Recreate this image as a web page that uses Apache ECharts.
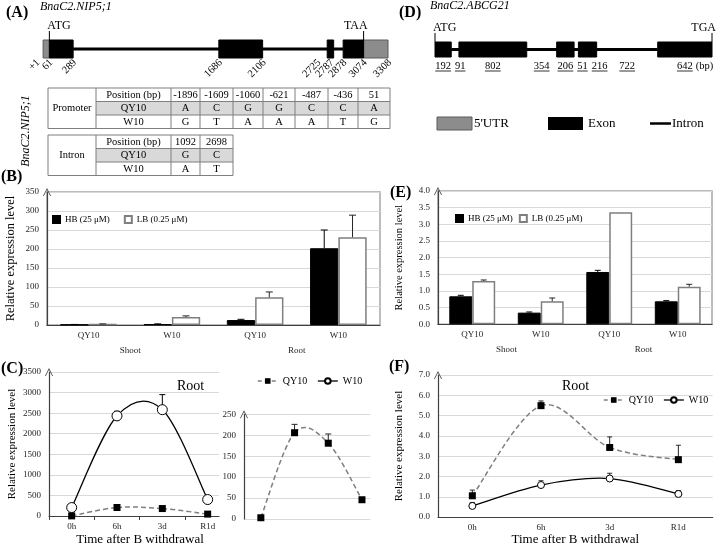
<!DOCTYPE html>
<html><head><meta charset="utf-8">
<script src="https://cdn.jsdelivr.net/npm/echarts@6/dist/echarts.min.js"></script>
<style>html,body{margin:0;padding:0;background:#fff}#c{width:720px;height:547px}</style>
</head><body><div id="c"></div>
<script>
// ---------------- data ----------------
const geneA_utr = [[1, 61], [3074, 3308]];
const geneA_exons = [[61, 289], [1686, 2106], [2725, 2787], [2878, 3074]];
const geneA_intron = [[289, 2878]];
const geneA_positions = [1, 61, 289, 1686, 2106, 2725, 2787, 2878, 3074, 3308];
const geneA_posLabels = ['+1', '61', '289', '1686', '2106', '2725', '2787', '2878', '3074', '3308'];
const geneA_codonPos = [61, 3074];
const geneA_codons = ['ATG', 'TAA'];

const geneD_segments = [192, 91, 802, 354, 206, 51, 216, 722, 642]; // exon/intron alternating
const geneD_codons = ['ATG', 'TGA'];

const promoterPositions = ['-1896', '-1609', '-1060', '-621', '-487', '-436', '51'];
const promoterQY10 = ['A', 'C', 'G', 'G', 'C', 'C', 'A'];
const promoterW10 = ['G', 'T', 'A', 'A', 'A', 'T', 'G'];
const intronPositions = ['1092', '2698'];
const intronQY10 = ['G', 'C'];
const intronW10 = ['A', 'T'];

const barCategories = ['QY10', 'W10', 'QY10', 'W10'];
const tissueGroups = ['Shoot', 'Root'];
const nipHB = [1, 2, 13, 202];
const nipHBErr = [0.5, 1, 2, 48];
const nipLB = [2, 21, 73, 231];
const nipLBErr = [1, 3, 14, 58];
const abcHB = [0.84, 0.35, 1.57, 0.69];
const abcHBErr = [0.03, 0.02, 0.05, 0.02];
const abcLB = [1.30, 0.69, 3.36, 1.13];
const abcLBErr = [0.03, 0.10, 0, 0.07];

const timeLabels = ['0h', '6h', '3d', 'R1d'];
const nipQY10 = [3, 206, 181, 46];
const nipQY10Err = [1, 20, 22, 2];
const nipW10 = [205, 2433, 2584, 400];
const nipW10Err = [20, 110, 366, 20];
const abcQY10 = [1.05, 5.49, 3.43, 2.83];
const abcQY10Err = [0.28, 0.23, 0.52, 0.71];
const abcW10 = [0.55, 1.58, 1.90, 1.14];
const abcW10Err = [0.17, 0.21, 0.26, 0.16];

// ---------------- helpers ----------------
const SERIF = '"Liberation Serif", "Times New Roman", serif';
const f = (size, extra) => (extra ? extra + ' ' : '') + size + 'px ' + SERIF;
const ARROW = 'path://M0,10 L5,0 L10,10 L9,10 L5,2.2 L1,10 Z';
const axisDark = '#404040';
const gridGray = '#d9d9d9';

const geneD_starts = [];
{ let acc = 0; geneD_segments.forEach(l => { geneD_starts.push(acc); acc += l; }); }
const geneD_total = geneD_segments.reduce((a, b) => a + b, 0);
const geneD_exons = geneD_segments.map((l, i) => [geneD_starts[i], geneD_starts[i] + l]).filter((_, i) => i % 2 === 0);
const geneD_intron = [[geneD_segments[0], geneD_starts[geneD_segments.length - 1]]];

function rectRender(fill, stroke) {
  return (params, api) => {
    const p1 = api.coord([api.value(0), 1]);
    const p2 = api.coord([api.value(1), 0]);
    return { type: 'rect', shape: { x: p1[0], y: p1[1], width: p2[0] - p1[0], height: p2[1] - p1[1] },
      style: { fill: fill, stroke: stroke, lineWidth: 1 } };
  };
}
function intronRender(params, api) {
  const p1 = api.coord([api.value(0), 0.5]);
  const p2 = api.coord([api.value(1), 0.5]);
  return { type: 'line', shape: { x1: p1[0], y1: p1[1], x2: p2[0], y2: p2[1] }, style: { stroke: '#000', lineWidth: 3 } };
}
function codonRender(labels) {
  return (params, api) => {
    const i = api.value(1);
    const p = api.coord([api.value(0), 1]);
    return { type: 'group', children: [
      { type: 'line', shape: { x1: p[0], y1: p[1], x2: p[0], y2: p[1] - 9 }, style: { stroke: '#000', lineWidth: 1 } },
      { type: 'text', x: i === 0 ? p[0] - 2 : p[0] + 4, y: p[1] - 8,
        style: { text: labels[i], font: f(12), fill: '#000', align: i === 0 ? 'left' : 'right', verticalAlign: 'bottom' } }
    ] };
  };
}
function errRender(sign, gapRatio, capW, color) {
  return (params, api) => {
    const x = api.value(0), v = api.value(1), e = api.value(2);
    if (!e) return null;
    const base = api.coord([x, v]);
    const top = api.coord([x, v + e]);
    let dx = 0;
    if (sign !== 0) {
      const band = api.size([1, 0])[0];
      dx = sign * band * (1 - gapRatio) / 4;
    }
    const cx = base[0] + dx;
    return { type: 'group', children: [
      { type: 'line', shape: { x1: cx, y1: base[1], x2: cx, y2: top[1] }, style: { stroke: color, lineWidth: 1 } },
      { type: 'line', shape: { x1: cx - capW / 2, y1: top[1], x2: cx + capW / 2, y2: top[1] }, style: { stroke: color, lineWidth: 1 } }
    ] };
  };
}
// spreadsheet-style smoothed curve (Catmull-Rom Bezier segments through the data points)
function curveRender(vals, stroke, width, dash) {
  return (params, api) => {
    const i = params.dataIndex;
    if (i >= vals.length - 1) return null;
    const P = j => { const k = Math.max(0, Math.min(vals.length - 1, j)); return api.coord([k, vals[k]]); };
    const p0 = P(i - 1), p1 = P(i), p2 = P(i + 1), p3 = P(i + 2);
    const t = 1 / 6;
    return { type: 'bezierCurve',
      shape: { x1: p1[0], y1: p1[1], x2: p2[0], y2: p2[1],
        cpx1: p1[0] + (p2[0] - p0[0]) * t, cpy1: p1[1] + (p2[1] - p0[1]) * t,
        cpx2: p2[0] - (p3[0] - p1[0]) * t, cpy2: p2[1] - (p3[1] - p1[1]) * t },
      style: { stroke: stroke, lineWidth: width, lineDash: dash || null, fill: null } };
  };
}
const triples = (vals, errs) => vals.map((v, i) => [i, v, errs[i]]);
const pairs = vals => vals.map((v, i) => [i, v]);

// ---------------- table graphics ----------------
function buildTable(title, colX, rowY, header, r1, r2) {
  const els = [];
  const right = colX[colX.length - 1];
  els.push({ type: 'rect', shape: { x: colX[1], y: rowY[1], width: right - colX[1], height: rowY[2] - rowY[1] }, style: { fill: '#d9d9d9' } });
  els.push({ type: 'rect', shape: { x: colX[0], y: rowY[0], width: right - colX[0], height: rowY[3] - rowY[0] }, style: { fill: 'none', stroke: '#7f7f7f', lineWidth: 1 } });
  [rowY[1], rowY[2]].forEach(y => els.push({ type: 'line', shape: { x1: colX[1], y1: y, x2: right, y2: y }, style: { stroke: '#7f7f7f', lineWidth: 1 } }));
  colX.slice(1, -1).forEach(x => els.push({ type: 'line', shape: { x1: x, y1: rowY[0], x2: x, y2: rowY[3] }, style: { stroke: '#7f7f7f', lineWidth: 1 } }));
  const txt = (t, x, y) => els.push({ type: 'text', x: x, y: y, style: { text: t, font: f(10.5), fill: '#000', align: 'center', verticalAlign: 'middle' } });
  txt(title, (colX[0] + colX[1]) / 2, (rowY[0] + rowY[3]) / 2);
  const rowNames = ['Position (bp)', 'QY10', 'W10'];
  const rows = [header, r1, r2];
  for (let r = 0; r < 3; r++) {
    const cy = (rowY[r] + rowY[r + 1]) / 2;
    txt(rowNames[r], (colX[1] + colX[2]) / 2, cy);
    rows[r].forEach((v, c) => txt(v, (colX[c + 2] + colX[c + 3]) / 2, cy));
  }
  return els;
}
const tableEls = []
  .concat(buildTable('Promoter', [48, 96, 171, 200, 233, 263, 295, 328, 358, 390], [88, 101.5, 115, 128.5], promoterPositions, promoterQY10, promoterW10))
  .concat(buildTable('Intron', [48, 96, 171, 200, 233], [135, 148.5, 162, 175.5], intronPositions, intronQY10, intronW10));

const textEl = (t, x, y, font, opts) => ({ type: 'text', x: x, y: y, style: Object.assign({ text: t, font: font, fill: '#000', align: 'left', verticalAlign: 'middle' }, opts || {}) });

const graphics = tableEls.concat([
  textEl('(A)', 6, 13, f(16, 'bold')),
  textEl('BnaC2.NIP5;1', 40, 7, f(12, 'italic')),
  textEl('(D)', 399, 13, f(16, 'bold')),
  textEl('BnaC2.ABCG21', 430, 6, f(12, 'italic')),
  textEl('(B)', 1, 177, f(16, 'bold')),
  textEl('(E)', 390, 193, f(16, 'bold')),
  textEl('(C)', 1, 369, f(16, 'bold')),
  textEl('(F)', 389, 367, f(16, 'bold')),
  textEl('Root', 177, 386, f(14)),
  textEl('Root', 562, 386, f(14)),
  { type: 'text', x: 26, y: 131, rotation: Math.PI / 2,
    style: { text: 'BnaC2.NIP5;1', font: f(12, 'italic'), fill: '#000', align: 'center', verticalAlign: 'middle' } },
  { type: 'rect', shape: { x: 437, y: 117, width: 35, height: 13 }, style: { fill: '#8c8c8c', stroke: '#5a5a5a', lineWidth: 1 } },
  textEl("5'UTR", 474, 124, f(13)),
  { type: 'rect', shape: { x: 548, y: 117, width: 35, height: 13 }, style: { fill: '#000' } },
  textEl('Exon', 588, 124, f(13)),
  { type: 'line', shape: { x1: 650, y1: 123.5, x2: 671, y2: 123.5 }, style: { stroke: '#000', lineWidth: 2.5 } },
  textEl('Intron', 672, 124, f(13))
]);

// ---------------- axes ----------------
const tickFont = { fontFamily: SERIF, fontSize: 9, color: '#262626' };
function valueAxis(grid, max, interval, dec, nameGap, nameSize) {
  return { gridIndex: grid, type: 'value', min: 0, max: max, interval: interval,
    axisLine: { show: true, onZero: false, symbol: ['none', ARROW], symbolSize: [8, 9], lineStyle: { color: axisDark, width: 1.2 } },
    axisTick: { show: false },
    axisLabel: Object.assign({ margin: 8, formatter: v => dec ? v.toFixed(dec) : String(v) }, tickFont),
    splitLine: { lineStyle: { color: gridGray, width: 1 } },
    name: nameGap ? 'Relative expression level' : '', nameLocation: 'middle', nameGap: nameGap || 0,
    nameTextStyle: { fontFamily: SERIF, fontSize: nameSize || 12, color: '#000' } };
}
function catAxes(grid) {
  return [
    { gridIndex: grid, type: 'category', data: barCategories, position: 'bottom',
      axisLine: { lineStyle: { color: axisDark, width: 1.2 } },
      axisTick: { length: 10, lineStyle: { color: axisDark, width: 1 } },
      axisLabel: Object.assign({ margin: 6 }, tickFont) },
    { gridIndex: grid, type: 'category', data: tissueGroups, position: 'bottom',
      axisLine: { show: false },
      axisTick: { length: 30, lineStyle: { color: axisDark, width: 1.2 } },
      axisLabel: Object.assign({ margin: 21 }, tickFont) }
  ];
}

const xAxis = [
  { gridIndex: 0, type: 'value', min: 0, max: 3308, show: false },
  { gridIndex: 1, type: 'value', min: 0, max: geneD_total, show: false },
  ...catAxes(2),          // 2,3
  ...catAxes(3),          // 4,5
  { gridIndex: 4, type: 'value', min: -0.5, max: 3.25,   // 6
    splitLine: { show: false },
    axisLine: { show: true, onZero: false, lineStyle: { color: axisDark, width: 1.2 } },
    axisTick: { show: true, customValues: [-0.5, 0.5, 1.5, 2.5], length: 4, lineStyle: { color: axisDark } },
    axisLabel: Object.assign({ customValues: [0, 1, 2, 3], formatter: v => timeLabels[Math.round(v)], margin: 6 }, tickFont),
    name: 'Time after B withdrawal', nameLocation: 'middle', nameGap: 17,
    nameTextStyle: { fontFamily: SERIF, fontSize: 13, color: '#000', padding: [0, 0, 0, 12] } },
  { gridIndex: 5, type: 'value', min: -0.5, max: 3.25, show: false },   // 7
  { gridIndex: 6, type: 'category', data: timeLabels,     // 8
    axisLine: { lineStyle: { color: axisDark, width: 1.2 } },
    axisTick: { length: 4, lineStyle: { color: axisDark } },
    axisLabel: Object.assign({ margin: 6 }, tickFont),
    name: 'Time after B withdrawal', nameLocation: 'middle', nameGap: 15,
    nameTextStyle: { fontFamily: SERIF, fontSize: 13, color: '#000' } }
];

const yAxis = [
  { gridIndex: 0, type: 'value', min: 0, max: 1, show: false },
  { gridIndex: 1, type: 'value', min: 0, max: 1, show: false },
  valueAxis(2, 350, 50, 0, 30, 12.5),
  valueAxis(3, 4, 0.5, 1, 33, 10.5),
  valueAxis(4, 3500, 500, 0, 31, 11),
  valueAxis(5, 250, 50, 0, 0),
  valueAxis(6, 7, 1, 1, 33, 11)
];

// ---------------- series ----------------
const HBstyle = { color: '#000', borderColor: '#000', borderWidth: 1 };
const LBstyle = { color: '#fff', borderColor: '#7f7f7f', borderWidth: 1.5 };
const qyLegendLine = { color: '#7f7f7f', type: [4, 3], width: 1.5, opacity: 1 };
const wLegendLine = { color: '#000', type: 'solid', width: 1.3, opacity: 1 };
const hiddenLine = { opacity: 0 };

// gene A position labels, nudged apart so neighbours do not collide
function geneALabelRender(params, api) {
  const xs = geneA_positions.map(p => api.coord([p, 0])[0]);
  for (let k = xs.length - 2; k >= 0; k--) xs[k] = Math.min(xs[k], xs[k + 1] - 13);
  const i = api.value(1);
  const y = api.coord([geneA_positions[i], 0])[1];
  return { type: 'text', x: xs[i] + 2, y: y + 3, rotation: Math.PI / 4,
    style: { text: geneA_posLabels[i], font: f(10.5), fill: '#000', align: 'right', verticalAlign: 'middle' } };
}
function geneDLabelRender(params, api) {
  const ws = geneD_segments.map(l => String(l).length * 5.25);
  const xs = geneD_segments.map((l, k) => api.coord([geneD_starts[k] + l / 2, 0])[0]);
  for (let k = 1; k < xs.length; k++) xs[k] = Math.max(xs[k], xs[k - 1] + (ws[k] + ws[k - 1]) / 2 + 4);
  const i = api.value(1);
  const y = api.coord([0, 0])[1];
  const t = String(geneD_segments[i]);
  const kids = [
    { type: 'text', x: xs[i], y: y + 9.5, style: { text: t, font: f(10.5), fill: '#000', align: 'center', verticalAlign: 'middle' } },
    { type: 'line', shape: { x1: xs[i] - ws[i] / 2, y1: y + 14, x2: xs[i] + ws[i] / 2, y2: y + 14 }, style: { stroke: '#000', lineWidth: 0.8 } }
  ];
  if (i === geneD_segments.length - 1) {
    kids.push({ type: 'text', x: xs[i] + ws[i] / 2 + 3, y: y + 9.5, style: { text: '(bp)', font: f(10.5), fill: '#000', align: 'left', verticalAlign: 'middle' } });
  }
  return { type: 'group', children: kids };
}

const series = [
  // gene A
  { type: 'custom', xAxisIndex: 0, yAxisIndex: 0, clip: false, data: geneA_intron, renderItem: intronRender },
  { type: 'custom', xAxisIndex: 0, yAxisIndex: 0, clip: false, data: geneA_utr, renderItem: rectRender('#8c8c8c', '#5a5a5a') },
  { type: 'custom', xAxisIndex: 0, yAxisIndex: 0, clip: false, data: geneA_exons, renderItem: rectRender('#000', '#000') },
  { type: 'custom', xAxisIndex: 0, yAxisIndex: 0, clip: false, data: geneA_codonPos.map((p, i) => [p, i]), renderItem: codonRender(geneA_codons) },
  { type: 'custom', xAxisIndex: 0, yAxisIndex: 0, clip: false, data: geneA_positions.map((p, i) => [p, i]), renderItem: geneALabelRender },
  // gene D
  { type: 'custom', xAxisIndex: 1, yAxisIndex: 1, clip: false, data: geneD_intron, renderItem: intronRender },
  { type: 'custom', xAxisIndex: 1, yAxisIndex: 1, clip: false, data: geneD_exons, renderItem: rectRender('#000', '#000') },
  { type: 'custom', xAxisIndex: 1, yAxisIndex: 1, clip: false, data: [[0, 0], [geneD_total, 1]], renderItem: codonRender(geneD_codons) },
  { type: 'custom', xAxisIndex: 1, yAxisIndex: 1, clip: false, data: geneD_segments.map((l, i) => [geneD_starts[i] + l / 2, i]), renderItem: geneDLabelRender },
  // panel B
  { type: 'bar', name: 'HB (25 μM)', xAxisIndex: 2, yAxisIndex: 2, data: nipHB, barGap: '0%', barCategoryGap: '32%', itemStyle: HBstyle },
  { type: 'bar', name: 'LB (0.25 μM)', xAxisIndex: 2, yAxisIndex: 2, data: nipLB, itemStyle: LBstyle },
  { type: 'custom', xAxisIndex: 2, yAxisIndex: 2, data: triples(nipHB, nipHBErr), encode: { x: 0, y: 1 }, renderItem: errRender(-1, 0.32, 7, '#000'), z: 3 },
  { type: 'custom', xAxisIndex: 2, yAxisIndex: 2, data: triples(nipLB, nipLBErr), encode: { x: 0, y: 1 }, renderItem: errRender(1, 0.32, 7, '#262626'), z: 3 },
  // panel E
  { type: 'bar', name: 'HB (25 μM)', xAxisIndex: 4, yAxisIndex: 3, data: abcHB, barGap: '0%', barCategoryGap: '33%', itemStyle: HBstyle },
  { type: 'bar', name: 'LB (0.25 μM)', xAxisIndex: 4, yAxisIndex: 3, data: abcLB, itemStyle: LBstyle },
  { type: 'custom', xAxisIndex: 4, yAxisIndex: 3, data: triples(abcHB, abcHBErr), encode: { x: 0, y: 1 }, renderItem: errRender(-1, 0.33, 6, '#000'), z: 3 },
  { type: 'custom', xAxisIndex: 4, yAxisIndex: 3, data: triples(abcLB, abcLBErr), encode: { x: 0, y: 1 }, renderItem: errRender(1, 0.33, 6, '#262626'), z: 3 },
  // panel C (left)
  { type: 'custom', xAxisIndex: 6, yAxisIndex: 4, data: triples(nipW10, nipW10Err), encode: { x: 0, y: 1 }, renderItem: errRender(0, 0, 6, '#000'), z: 1 },
  { type: 'custom', xAxisIndex: 6, yAxisIndex: 4, data: pairs(nipQY10), encode: { x: 0, y: 1 }, renderItem: curveRender(nipQY10, '#7f7f7f', 1.5, [5, 3]), z: 2 },
  { type: 'custom', xAxisIndex: 6, yAxisIndex: 4, data: pairs(nipW10), encode: { x: 0, y: 1 }, renderItem: curveRender(nipW10, '#000', 1.3), z: 2 },
  { type: 'line', name: 'QY10', xAxisIndex: 6, yAxisIndex: 4, data: pairs(nipQY10),
    symbol: 'rect', symbolSize: 7, itemStyle: { color: '#000' }, lineStyle: hiddenLine, z: 3 },
  { type: 'line', name: 'W10', xAxisIndex: 6, yAxisIndex: 4, data: pairs(nipW10),
    symbol: 'circle', symbolSize: 10, itemStyle: { color: '#fff', borderColor: '#000', borderWidth: 1 }, lineStyle: hiddenLine, z: 3 },
  // panel C (right, QY10 enlarged)
  { type: 'custom', xAxisIndex: 7, yAxisIndex: 5, data: triples(nipQY10, nipQY10Err), encode: { x: 0, y: 1 }, renderItem: errRender(0, 0, 6, '#262626'), z: 1 },
  { type: 'custom', xAxisIndex: 7, yAxisIndex: 5, data: pairs(nipQY10), encode: { x: 0, y: 1 }, renderItem: curveRender(nipQY10, '#7f7f7f', 1.5, [5, 3]), z: 2 },
  { type: 'line', name: 'QY10', xAxisIndex: 7, yAxisIndex: 5, data: pairs(nipQY10),
    symbol: 'rect', symbolSize: 7, itemStyle: { color: '#000' }, lineStyle: hiddenLine, z: 3 },
  // panel F
  { type: 'custom', xAxisIndex: 8, yAxisIndex: 6, data: triples(abcQY10, abcQY10Err), encode: { x: 0, y: 1 }, renderItem: errRender(0, 0, 5, '#262626'), z: 1 },
  { type: 'custom', xAxisIndex: 8, yAxisIndex: 6, data: triples(abcW10, abcW10Err), encode: { x: 0, y: 1 }, renderItem: errRender(0, 0, 5, '#262626'), z: 1 },
  { type: 'custom', xAxisIndex: 8, yAxisIndex: 6, data: pairs(abcQY10), encode: { x: 0, y: 1 }, renderItem: curveRender(abcQY10, '#7f7f7f', 1.5, [5, 3]), z: 2 },
  { type: 'custom', xAxisIndex: 8, yAxisIndex: 6, data: pairs(abcW10), encode: { x: 0, y: 1 }, renderItem: curveRender(abcW10, '#000', 1.3), z: 2 },
  { type: 'line', name: 'QY10', xAxisIndex: 8, yAxisIndex: 6, data: abcQY10,
    symbol: 'rect', symbolSize: 7, itemStyle: { color: '#000' }, lineStyle: hiddenLine, z: 3 },
  { type: 'line', name: 'W10', xAxisIndex: 8, yAxisIndex: 6, data: abcW10,
    symbol: 'circle', symbolSize: 7, itemStyle: { color: '#fff', borderColor: '#000', borderWidth: 1 }, lineStyle: hiddenLine, z: 3 }
];

const legendText = { fontFamily: SERIF, fontSize: 9, color: '#000' };
const lineLegendData = [{ name: 'QY10', lineStyle: qyLegendLine }, { name: 'W10', lineStyle: wLegendLine }];
const option = {
  animation: false,
  backgroundColor: '#fff',
  grid: [
    { left: 43, top: 40, width: 345, height: 18 },
    { left: 435, top: 42, width: 277, height: 15 },
    { left: 47, top: 192, width: 333, height: 133, show: true, borderColor: '#a6a6a6', borderWidth: 1.5 },
    { left: 438, top: 191, width: 274, height: 133.3, show: true, borderColor: '#a6a6a6', borderWidth: 1.5 },
    { left: 49, top: 372, width: 170, height: 147 },
    { left: 244, top: 414.3, width: 126.4, height: 104.7 },
    { left: 438, top: 375, width: 274.7, height: 143.3 }
  ],
  xAxis: xAxis,
  yAxis: yAxis,
  legend: [
    { left: 52, top: 215, padding: 0, icon: 'rect', itemWidth: 7, itemHeight: 7, itemGap: 14, data: ['HB (25 μM)', 'LB (0.25 μM)'], textStyle: legendText },
    { left: 455, top: 214, padding: 0, icon: 'rect', itemWidth: 7, itemHeight: 7, itemGap: 6, data: ['HB (25 μM)', 'LB (0.25 μM)'], textStyle: legendText },
    { left: 257, top: 376, padding: 0, itemWidth: 20, itemHeight: 7, itemGap: 10, data: lineLegendData, textStyle: Object.assign({}, legendText, { fontSize: 10 }) },
    { left: 603, top: 395, padding: 0, itemWidth: 20, itemHeight: 7, itemGap: 10, data: lineLegendData, textStyle: Object.assign({}, legendText, { fontSize: 10 }) }
  ],
  graphic: graphics,
  series: series
};
const chart = echarts.init(document.getElementById('c'), null, { renderer: 'canvas' });
chart.setOption(option);
</script>
</body></html>
